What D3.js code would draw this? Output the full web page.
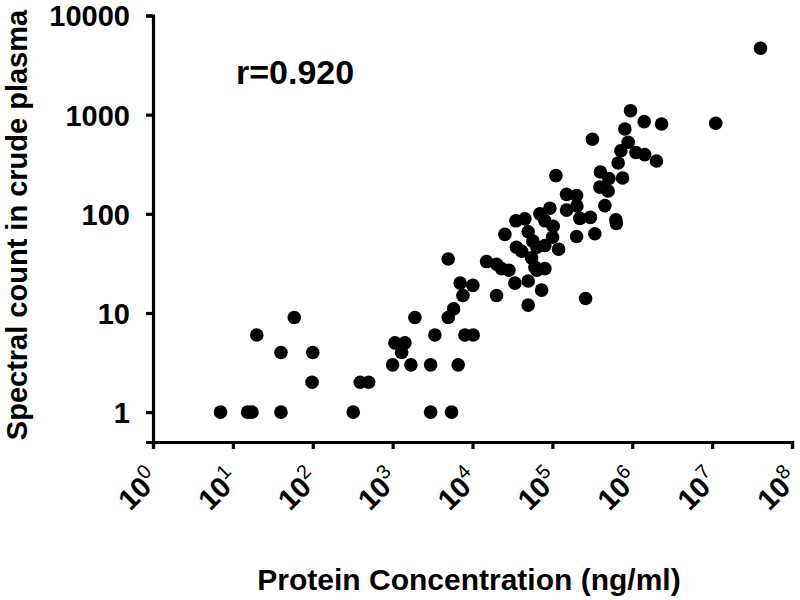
<!DOCTYPE html>
<html>
<head>
<meta charset="utf-8">
<script src="https://cdn.jsdelivr.net/npm/d3@7"></script>
<style>
  body { margin: 0; background: #fff; }
  text { font-family: "Liberation Sans", Arial, Helvetica, sans-serif; font-weight: bold; fill: #000; }
</style>
</head>
<body>
<svg width="800" height="600"></svg>
<script>
// protein concentration (ng/ml)
var concentration = [
  7, 15.3, 17.3, 40, 321, 2990, 5470,
  19.9, 40, 58.7, 100, 98, 393, 501,
  1000, 1069, 1426, 1297, 1694, 2990, 6620, 1901, 3383, 8035, 10200,
  4965, 5800, 7585, 7015, 10100, 4965,
  15000, 20000, 23100, 28560, 20000, 33960, 49800, 73280, 49800, 260500,
  25430, 35420, 41180, 57000, 64000, 80560, 100600, 119600,
  54900, 60400, 80560, 64000, 49800, 34940, 45290, 80560, 102300, 69800, 93000,
  150600, 201000, 150600, 202700, 220800, 299000, 393000, 454000, 623500, 632000,
  201000, 340400, 110700, 399000, 509500, 756000, 499000,
  666000, 720000, 889000, 808000, 952000, 1410000, 2330000,
  1110000, 1430000, 2010000, 317000, 11100000, 40300000
];

// spectral count in crude plasma, same order
var spectralCount = [
  1, 1, 1, 1, 1, 1, 1,
  6, 4, 9, 4, 2, 2, 2,
  3, 5, 5, 4, 3, 3, 3, 9, 6, 6, 6,
  9, 11, 15, 20, 19, 35,
  33, 31, 28, 27, 15, 20, 21, 17, 12, 14,
  62, 46, 42, 53, 46, 48, 58, 44,
  36, 29, 28, 27, 66, 85, 89, 85, 75, 100, 114,
  157, 153, 109, 120, 90, 92, 186, 121, 87, 80,
  59, 63, 243, 264, 227, 230, 170,
  326, 433, 527, 717, 1097, 850, 806,
  415, 395, 341, 565, 819, 4677
];

var xTicks = [1, 10, 100, 1000, 1e4, 1e5, 1e6, 1e7, 1e8];
var yTicks = [1, 10, 100, 1000, 10000];

var rLabel = "r=0.920";
var xTitle = "Protein Concentration (ng/ml)";
var yTitle = "Spectral count in crude plasma";

var points = concentration.map(function(c, i) {
  return { conc: c, count: spectralCount[i] };
});

var svg = d3.select("svg");

// log scales on both axes
var x = d3.scaleLog().domain([1, 1e8]).range([153, 792]);
var y = d3.scaleLog().domain([0.5, 10000]).range([442, 15.5]);

// y axis
var yAxis = svg.append("g")
  .attr("transform", "translate(153,0)")
  .call(d3.axisLeft(y).tickValues(yTicks).tickSize(7).tickPadding(16)
    .tickFormat(function(d) { return String(d); }));

// x axis
var xAxis = svg.append("g")
  .attr("transform", "translate(0,442)")
  .call(d3.axisBottom(x).tickValues(xTicks).tickSize(7).tickFormat(""));

[xAxis, yAxis].forEach(function(ax) {
  ax.select(".domain").attr("stroke", "#000").attr("stroke-width", 3.2);
  ax.selectAll(".tick line").attr("stroke", "#000").attr("stroke-width", 3.2);
});

yAxis.selectAll(".tick text")
  .attr("font-size", 29)
  .attr("dy", "0.36em")
  .style("font-family", "Liberation Sans, Arial, sans-serif")
  .style("font-weight", "bold");

// rotated 10^n labels with superscripts
var xl = svg.append("g").selectAll("text")
  .data(xTicks)
  .enter()
  .append("text")
  .attr("text-anchor", "end")
  .attr("font-size", 29)
  .attr("transform", function(d) {
    return "translate(" + (x(d) + 8) + "," + 481 + ") rotate(-45)";
  });
xl.append("tspan").text("10");
xl.append("tspan")
  .attr("font-size", 20)
  .attr("dy", "-0.6em")
  .attr("font-weight", "normal")
  .text(function(d) { return Math.round(Math.log10(d)); });

// dots
svg.append("g").selectAll("circle")
  .data(points)
  .enter()
  .append("circle")
  .attr("cx", function(d) { return x(d.conc); })
  .attr("cy", function(d) { return y(d.count); })
  .attr("r", 6.8)
  .attr("fill", "#000");

// correlation label
svg.append("text")
  .attr("x", 236)
  .attr("y", 84)
  .attr("font-size", 34)
  .text(rLabel);

// axis titles
svg.append("text")
  .attr("x", 469)
  .attr("y", 590)
  .attr("text-anchor", "middle")
  .attr("font-size", 30)
  .text(xTitle);

svg.append("text")
  .attr("transform", "translate(27,225) rotate(-90)")
  .attr("text-anchor", "middle")
  .attr("font-size", 29)
  .text(yTitle);
</script>
</body>
</html>
